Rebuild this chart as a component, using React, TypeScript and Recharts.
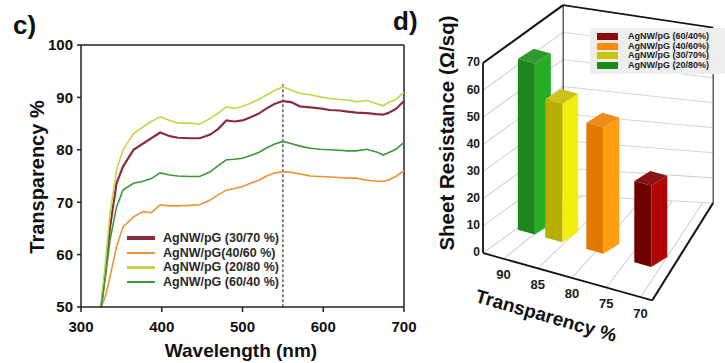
import React from "react"
import { Bar, BarChart, Line, LineChart, ReferenceLine, XAxis, YAxis } from "recharts"

// ---- panel c: transmission spectra ----
const wavelength = [
  325, 330, 336, 344, 352, 365, 377, 387, 398, 410, 420, 435, 447, 460, 470, 480, 490, 500, 510,
  520, 530, 540, 550, 560, 571, 584, 596, 608, 620, 630, 641, 654, 666, 674, 680, 690, 700,
]
const t2080 = [
  50, 58, 67.9, 76.1, 80, 83.1, 84.4, 85.4, 86.3, 85.6, 85.1, 85.1, 84.9, 86, 87, 88.2, 87.9, 88.3,
  88.9, 89.6, 90.5, 91.3, 92, 91.4, 90.8, 90.5, 90.1, 89.8, 89.6, 89.5, 89.2, 89.4, 88.8, 88.4, 89.0,
  89.6, 91,
]
const t3070 = [
  50, 56.5, 65.3, 73.6, 76.8, 80, 81.2, 82.2, 83.3, 82.6, 82.3, 82.2, 82.2, 82.9, 84, 85.6, 85.4,
  85.6, 86.2, 86.9, 87.9, 88.8, 89.3, 89.1, 88.3, 88.1, 87.9, 87.6, 87.5, 87.3, 87.1, 87.0, 86.8,
  86.7, 87.0, 87.8, 89.3,
]
const t6040 = [
  50, 55.5, 62.8, 69.1, 72.3, 73.6, 74.0, 74.5, 75.6, 75.2, 75.0, 74.9, 74.9, 75.8, 77.0, 78.1, 78.2,
  78.4, 78.9, 79.5, 80.4, 81.1, 81.6, 81.2, 80.7, 80.3, 80.1, 80.0, 79.9, 79.8, 79.8, 80.1, 79.6,
  79.0, 79.4, 80.1, 81.4,
]
const t4060 = [
  50, 52, 55.8, 61.5, 65.3, 67.2, 68.2, 68.0, 69.5, 69.3, 69.3, 69.4, 69.5, 70.4, 71.4, 72.3, 72.6,
  73.0, 73.6, 74.2, 75.0, 75.6, 75.8, 75.7, 75.4, 75.0, 74.9, 74.8, 74.7, 74.6, 74.6, 74.2, 74.0,
  74.0, 74.2, 74.9, 76.0,
]
const wavelengthTicks = [300, 400, 500, 600, 700]
const percentTicks = [50, 60, 70, 80, 90, 100]
const markerWavelength = 550

// ---- panel d: sheet resistance vs transparency ----
const barNames = ["AgNW/pG (20/80%)", "AgNW/pG (30/70%)", "AgNW/pG (40/60%)", "AgNW/pG (60/40%)"]
const barTransparency = [90, 86, 80, 73]
const barResistance = [63, 51, 46.5, 30]
const resistanceTicks = [0, 10, 20, 30, 40, 50, 60, 70]
const transparencyTicks = [90, 85, 80, 75, 70]

const spectrum = wavelength.map((wl, i) => ({
  wl,
  s2080: t2080[i],
  s3070: t3070[i],
  s4060: t4060[i],
  s6040: t6040[i],
}))

const lineSeries = [
  { key: "s3070", name: "AgNW/pG (30/70 %)", color: "#8a2d3e", width: 2.2, legendWidth: 4 },
  { key: "s4060", name: "AgNW/pG(40/60 %)", color: "#ef9135", width: 1.6, legendWidth: 2 },
  { key: "s2080", name: "AgNW/pG (20/80 %)", color: "#c6d447", width: 1.6, legendWidth: 2.5 },
  { key: "s6040", name: "AgNW/pG (60/40 %)", color: "#3a983a", width: 1.6, legendWidth: 2.5 },
]

const bars = barNames.map((name, i) => ({
  name,
  transparency: barTransparency[i],
  resistance: barResistance[i],
}))

// front / side / top faces, same order as barNames
const barColors = [
  { front: "#1c861c", side: "#26ad26", top: "#2f9a2f", key: "#1a8a1a" },
  { front: "#b7ae00", side: "#f2ee10", top: "#cdc21a", key: "#c9c400" },
  { front: "#e27800", side: "#ff9d10", top: "#f08c1c", key: "#ff8a00" },
  { front: "#6e0000", side: "#b20606", top: "#8a1212", key: "#8c0a0a" },
]
const legendOrder = [3, 2, 1, 0]

// 3D box of panel d, in data units of the skewed chart
const SKEW = 15.64
const BOX = { front: 93, back: 81.3, edge: 68.3, far: 59.4, lift: 29.6, farLift: 42.2, top: 70, farTop: 106.8 }
const LIFT = { dx: 23, dy: -33 }
const DEPTH = { dx: 16, dy: -14.5 }

type Seg = { x: number; y: number }[]
const blackSegs: Seg[] = [
  [{ x: BOX.front, y: 0 }, { x: BOX.front, y: BOX.top }],
  [{ x: BOX.front, y: 0 }, { x: BOX.edge, y: 0 }],
  [{ x: BOX.edge, y: 0 }, { x: BOX.far, y: BOX.farLift }],
  [{ x: BOX.front, y: BOX.top }, { x: BOX.back, y: BOX.top + BOX.lift }],
  [{ x: BOX.back, y: BOX.top + BOX.lift }, { x: BOX.far, y: BOX.farTop }],
  [{ x: BOX.back, y: BOX.lift }, { x: BOX.back, y: BOX.top + BOX.lift }],
  [{ x: BOX.far, y: BOX.farLift }, { x: BOX.far, y: BOX.farTop }],
]
const farStep = (BOX.farTop - BOX.farLift) / BOX.top
const greySegs: Seg[] = [
  ...resistanceTicks.slice(0, -1).map((k) => [
    { x: BOX.front, y: k },
    { x: BOX.back, y: k + BOX.lift },
  ]),
  ...resistanceTicks.slice(0, -1).map((k) => [
    { x: BOX.back, y: k + BOX.lift },
    { x: BOX.far, y: BOX.farLift + k * farStep },
  ]),
  ...transparencyTicks.map((t) => {
    const u = (BOX.front - t) / (BOX.front - BOX.edge)
    return [
      { x: t, y: 0 },
      { x: BOX.back + (BOX.far - BOX.back) * u, y: BOX.lift + (BOX.farLift - BOX.lift) * u },
    ]
  }),
]

function Bar3D(props: any) {
  const { x, y, width, height, index } = props
  const c = barColors[index]
  const x0 = x + LIFT.dx
  const y0 = y + LIFT.dy
  const x1 = x0 + width
  const y1 = y0 + height
  const { dx, dy } = DEPTH
  return (
    <g>
      <polygon points={`${x1},${y0} ${x1 + dx},${y0 + dy} ${x1 + dx},${y1 + dy} ${x1},${y1}`} fill={c.side} />
      <polygon points={`${x0},${y0} ${x0 + dx},${y0 + dy} ${x1 + dx},${y0 + dy} ${x1},${y0}`} fill={c.top} />
      <rect x={x0} y={y0} width={width} height={height} fill={c.front} />
    </g>
  )
}

function UprightTick(props: any) {
  const { x, y, payload, textAnchor, fontSize } = props
  return (
    <g transform={`translate(${x},${y}) skewY(${-SKEW})`}>
      <text textAnchor={textAnchor} dy="0.35em" fontSize={fontSize} fontWeight={700} fill="#1a1a1a">
        {payload.value}
      </text>
    </g>
  )
}

const tickStyle = { fill: "#111", fontSize: 15, fontWeight: 700 }
const D_MARGIN = { top: 14.5, right: 9.1, bottom: 17, left: 83 }

export default function App() {
  return (
    <div
      style={{
        position: "fixed",
        left: 0,
        top: 0,
        width: 725,
        height: 363,
        overflow: "hidden",
        background: "#fff",
        fontFamily: '"Liberation Sans", Arial, sans-serif',
        color: "#111",
      }}
    >
      {/* panel c */}
      <div style={{ position: "absolute", left: 0, top: 0 }}>
        <LineChart width={420} height={363} data={spectrum} margin={{ top: 45, right: 16, bottom: 26, left: 36 }}>
          <XAxis
            dataKey="wl"
            type="number"
            domain={[300, 700]}
            ticks={wavelengthTicks}
            height={30}
            tickSize={5}
            tickMargin={9}
            stroke="#222"
            strokeWidth={1.5}
            tick={tickStyle}
          />
          <YAxis
            type="number"
            domain={[50, 100]}
            ticks={percentTicks}
            width={45}
            tickSize={4}
            tickMargin={4}
            stroke="#222"
            strokeWidth={1.5}
            tick={tickStyle}
            allowDataOverflow
          />
          <ReferenceLine y={100} stroke="#222" strokeWidth={1.5} />
          <ReferenceLine x={700} stroke="#222" strokeWidth={1.5} />
          <ReferenceLine
            segment={[
              { x: markerWavelength, y: 92.5 },
              { x: markerWavelength, y: 50 },
            ]}
            stroke="#333"
            strokeWidth={1.2}
            strokeDasharray="3 2"
          />
          {lineSeries.map((s) => (
            <Line
              key={s.key}
              type="linear"
              dataKey={s.key}
              name={s.name}
              stroke={s.color}
              strokeWidth={s.width}
              dot={false}
              activeDot={false}
              isAnimationActive={false}
            />
          ))}
        </LineChart>
      </div>
      <div style={{ position: "absolute", left: 13, top: 10, fontSize: 26, fontWeight: 700 }}>c)</div>
      <div
        style={{
          position: "absolute",
          left: 37 - 110,
          top: 177 - 12,
          width: 220,
          height: 24,
          lineHeight: "24px",
          textAlign: "center",
          fontSize: 20,
          fontWeight: 700,
          transform: "rotate(-90deg)",
        }}
      >
        Transparency %
      </div>
      <div
        style={{
          position: "absolute",
          left: 241 - 100,
          top: 340,
          width: 200,
          textAlign: "center",
          fontSize: 19,
          fontWeight: 700,
        }}
      >
        Wavelength (nm)
      </div>
      {/* legend c */}
      <div style={{ position: "absolute", left: 127, top: 231, fontSize: 12.5, fontWeight: 700, color: "#2a2a2a" }}>
        {lineSeries.map((s) => (
          <div key={s.key} style={{ display: "flex", alignItems: "center", height: 14.5 }}>
            <span style={{ width: 28, height: s.legendWidth, background: s.color, marginRight: 8 }} />
            <span>{s.name}</span>
          </div>
        ))}
      </div>

      {/* panel d */}
      <div
        style={{
          position: "absolute",
          left: 360,
          top: -60,
          width: 365,
          height: 360,
          transform: `skewY(${SKEW}deg)`,
          transformOrigin: "123px 313px",
        }}
      >
        <div style={{ position: "absolute", left: 0, top: 0 }}>
          <BarChart width={365} height={360} data={bars} margin={D_MARGIN}>
            <XAxis
              dataKey="transparency"
              type="number"
              domain={[59, 93]}
              reversed
              ticks={transparencyTicks}
              height={30}
              axisLine={false}
              tickLine={false}
              tickSize={0}
              tickMargin={16}
              interval={0}
              tick={<UprightTick fontSize={13} />}
            />
            <YAxis
              type="number"
              domain={[0, 110]}
              ticks={resistanceTicks}
              width={40}
              axisLine={false}
              tickLine={false}
              tickSize={0}
              tickMargin={3}
              interval={0}
              tick={<UprightTick fontSize={12} />}
            />
            {/* invisible series so the value axis and box lines get scales */}
            <Bar dataKey="resistance" barSize={17} shape={() => <g />} isAnimationActive={false} />
            {greySegs.map((seg, i) => (
              <ReferenceLine key={`g${i}`} segment={seg} stroke="#d4d4d4" strokeWidth={1} />
            ))}
            {blackSegs.map((seg, i) => (
              <ReferenceLine key={`b${i}`} segment={seg} stroke="#111" strokeWidth={i < 5 ? 1.8 : 1} />
            ))}
          </BarChart>
        </div>
        <div style={{ position: "absolute", left: 0, top: 0 }}>
          <BarChart width={365} height={360} data={bars} margin={D_MARGIN}>
            <XAxis dataKey="transparency" type="number" domain={[59, 93]} reversed height={30} tick={false} axisLine={false} tickLine={false} />
            <YAxis type="number" domain={[0, 110]} width={40} tick={false} axisLine={false} tickLine={false} />
            <Bar dataKey="resistance" barSize={17} shape={(p: any) => <Bar3D {...p} />} isAnimationActive={false} />
          </BarChart>
        </div>
      </div>
      <div style={{ position: "absolute", left: 393, top: 6, fontSize: 26, fontWeight: 700 }}>d)</div>
      <div
        style={{
          position: "absolute",
          left: 447 - 140,
          top: 133 - 13,
          width: 280,
          height: 26,
          lineHeight: "26px",
          textAlign: "center",
          fontSize: 20.5,
          fontWeight: 700,
          transform: "rotate(-90deg)",
        }}
      >
        Sheet Resistance (Ω/sq)
      </div>
      <div
        style={{
          position: "absolute",
          left: 546 - 90,
          top: 316 - 12,
          width: 180,
          height: 24,
          lineHeight: "24px",
          textAlign: "center",
          fontSize: 19,
          fontWeight: 700,
          transform: "rotate(16deg)",
        }}
      >
        Transparency %
      </div>
      {/* legend d */}
      <div
        style={{
          position: "absolute",
          left: 590,
          top: 28,
          width: 140,
          height: 46,
          padding: "4px 0 0 7px",
          boxSizing: "border-box",
          background: "#eeeeee",
          fontSize: 9,
          lineHeight: "9.5px",
          fontWeight: 700,
          color: "#222",
          whiteSpace: "nowrap",
        }}
      >
        {legendOrder.map((i) => (
          <div key={i} style={{ display: "flex", alignItems: "center", height: 9.5 }}>
            <span style={{ width: 21, height: 7, background: barColors[i].key, marginRight: 10 }} />
            <span>{barNames[i]}</span>
          </div>
        ))}
      </div>
    </div>
  )
}
